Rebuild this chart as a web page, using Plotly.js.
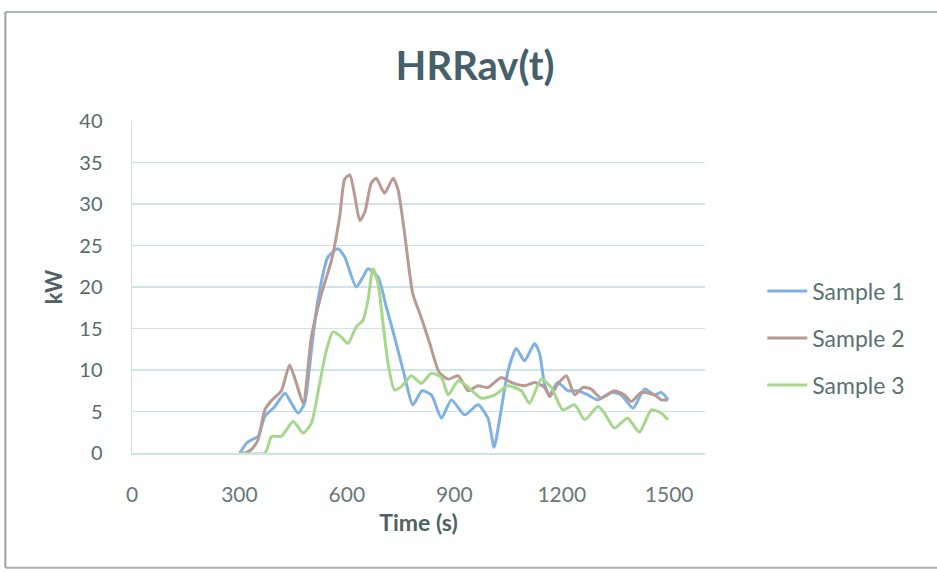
<!DOCTYPE html>
<html>
<head>
<meta charset="utf-8">
<script src="https://cdn.plot.ly/plotly-3.0.1.min.js"></script>
<style>html,body{margin:0;padding:0;background:#fff;}#chart{width:937px;height:572px;}</style>
</head>
<body>
<div id="chart"></div>
<script>
// Sample 1 (blue)
const t1 = [300,306,320,334,352,371,399,427,445,464,482,501,519,547,575,594,626,645,659,687,710,733,761,784,810,836,864,892,929,966,994,1011,1027,1050,1073,1096,1124,1138,1152,1166,1189,1217,1245,1273,1301,1338,1366,1399,1431,1459,1478,1497];
const y1 = [0,0.3,1.2,1.6,2,4.4,5.6,7.2,6,4.8,6,12.4,18.4,23.6,24.6,23.6,20,21.2,22.2,21.2,17.6,14,9.3,5.8,7.5,7,4.2,6.4,4.6,5.8,4.2,0.7,4.2,9.9,12.6,11.1,13.2,12,8.3,7,8.5,7.5,7.5,7,6.4,7.3,7,5.4,7.7,7,7.3,6.4];
// Sample 2 (brown)
const t2 = [300,315,335,352,371,389,417,440,459,478,501,529,557,580,594,608,622,636,650,668,682,705,729,743,761,784,807,830,858,883,911,939,966,994,1031,1059,1096,1124,1152,1166,1189,1213,1236,1259,1282,1310,1347,1375,1394,1422,1459,1478,1497];
const y2 = [0,0,0.5,1.6,5.2,6.3,7.5,10.6,8.4,6,14,19.2,23.2,28.5,33,33.5,31,28,29,32.5,33.1,31.3,33.1,31.7,26.5,19.2,16.4,13.4,9.7,8.9,9.3,7.5,8.1,7.9,9.1,8.5,8.1,8.5,7.9,6.8,8.3,9.3,7,7.9,7.7,6.6,7.5,7,6.2,7.3,7,6.4,6.4];
// Sample 3 (green)
const t3 = [300,371,390,417,450,478,501,524,543,561,584,603,626,645,659,673,687,701,715,733,752,780,808,836,864,883,911,939,976,1013,1050,1087,1110,1143,1171,1203,1236,1264,1301,1319,1347,1384,1417,1450,1478,1497];
const y3 = [0,0,2,2,3.8,2.4,3.6,8.4,12.4,14.6,14,13.2,15.2,16,18.4,22.2,20.4,15.6,10.8,7.6,8,9.3,8.4,9.6,9.1,7,8.7,7.9,6.6,7,8.1,7.5,6,8.9,7.9,5.2,5.8,4,5.6,4.8,3,4.2,2.5,5.2,4.8,4];

const seriesNames = ['Sample 1','Sample 2','Sample 3'];
const seriesColors = ['#7fb1e4','#b99a92','#a5d78c'];
const xTicks = [0,300,600,900,1200,1500];
const yTicks = [0,5,10,15,20,25,30,35,40];

const xs=[t1,t2,t3], ys=[y1,y2,y3];
const traces = xs.map((x,i)=>({
  x:x, y:ys[i], type:'scatter', mode:'lines', name:seriesNames[i],
  legendgroup:'g'+i,
  line:{color:seriesColors[i], width:3, shape:'spline', smoothing:0.6}
}));

const layout = {
  width:937, height:572,
  margin:{l:132, r:232, t:121, b:119},
  paper_bgcolor:'#fff', plot_bgcolor:'#fff',
  font:{family:'Lato, "Open Sans", sans-serif', color:'#566a6a'},
  title:{text:'<b>HRRav(t)</b>', x:0.507, xref:'container', xanchor:'center', y:0.885, yref:'container', yanchor:'middle',
    font:{size:40, color:'#45606a', family:'Lato, sans-serif'}},
  xaxis:{range:[0,1600], tickvals:xTicks, ticktext:xTicks.map(String), showgrid:false, zeroline:false,
    showline:true, linecolor:'#cfe2ea', linewidth:1.5,
    ticks:'', ticklabelstandoff:22, tickfont:{size:21, color:'#6a7777'},
    title:{text:'<b>Time (s)</b>', font:{size:23, color:'#4f6262'}, standoff:10}},
  yaxis:{range:[0,40], tickvals:yTicks, showgrid:true, gridcolor:'#cfe3ea', gridwidth:1.5, zeroline:false,
    showline:true, linecolor:'#dcdcdc', linewidth:1.5,
    ticks:'', ticklabelstandoff:24, tickfont:{size:20, color:'#586b6b'},
    title:{text:'<b>kW</b>', font:{size:22, color:'#4f6262'}, standoff:10}},
  legend:{x:1.1, xanchor:'left', y:0.346, yanchor:'middle', font:{size:23, color:'#5a7272'},
    tracegroupgap:14, itemwidth:40, bgcolor:'rgba(0,0,0,0)'},
  showlegend:true,
  shapes:[
    {type:'line', xref:'paper', yref:'paper', x0:-0.221, x1:1.41, y0:1.328, y1:1.328, line:{color:'#a9b6bd', width:2}},
    {type:'line', xref:'paper', yref:'paper', x0:-0.221, x1:-0.221, y0:1.328, y1:-0.346, line:{color:'#a0a0a0', width:2}},
    {type:'line', xref:'paper', yref:'paper', x0:-0.221, x1:1.41, y0:-0.346, y1:-0.346, line:{color:'#b0b0b0', width:2}}
  ]
};
Plotly.newPlot('chart', traces, layout, {displayModeBar:false, staticPlot:true});
</script>
</body>
</html>
